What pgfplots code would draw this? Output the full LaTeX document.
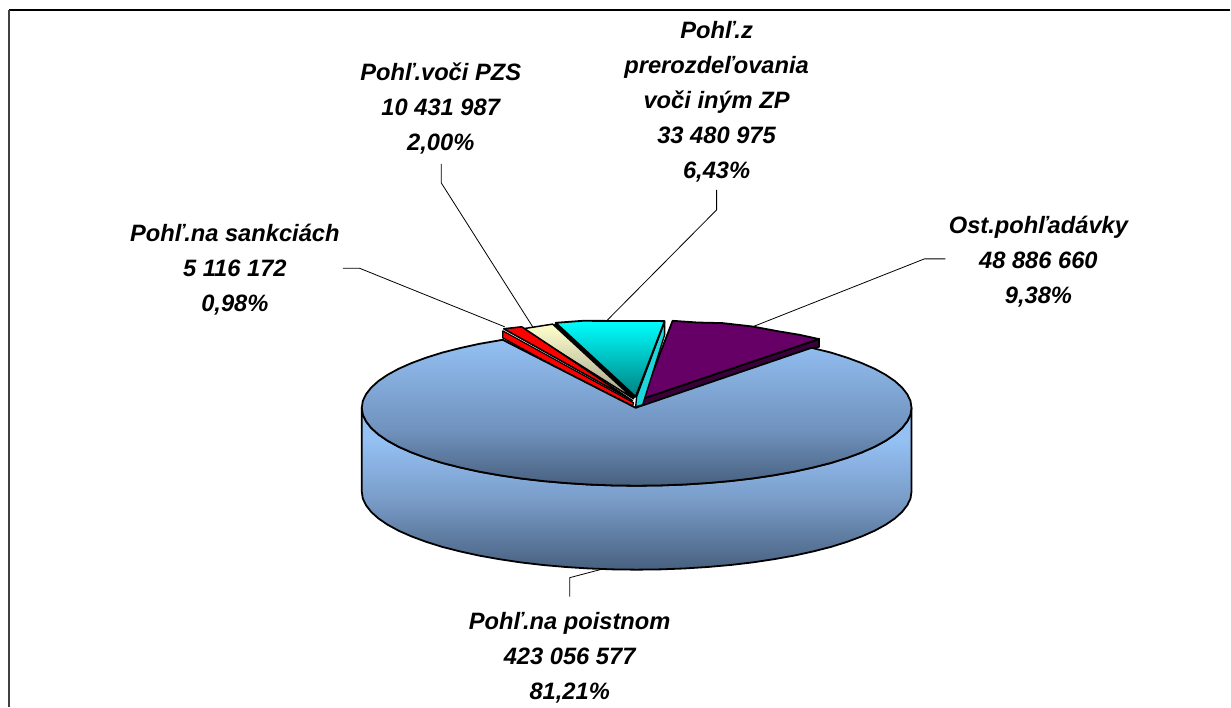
\documentclass[border=0pt]{standalone}
\usepackage{pgfplots}
\pgfplotsset{compat=1.18}
\usepackage{fontspec}
\setmainfont{Liberation Sans}
\definecolor{bluelight}{HTML}{94C0F3}
\definecolor{bluemid}{HTML}{7092BD}
\definecolor{bluemids}{HTML}{7A9DC9}
\definecolor{bluedark}{HTML}{47607F}
\definecolor{purpleTop}{HTML}{660066}
\definecolor{purpleSide}{HTML}{3A003A}
\definecolor{cyanSide}{HTML}{1CD6DC}
\pgfdeclareverticalshading{sideblue}{100bp}{color(0bp)=(bluedark);color(25bp)=(bluedark);color(47bp)=(bluemids);color(65bp)=(bluelight);color(100bp)=(bluelight)}
\pgfdeclareverticalshading{topblue}{100bp}{color(0bp)=(bluedark);color(25bp)=(bluedark);color(44bp)=(bluemid);color(75bp)=(bluelight);color(100bp)=(bluelight)}
\tikzset{lab/.style={font=\fontsize{23.7}{35}\selectfont\bfseries\itshape, align=center, anchor=center, inner sep=0pt}}
\begin{document}
\begin{tikzpicture}
\begin{axis}[
  scale only axis, width=1231pt, height=707pt,
  xmin=0, xmax=1231, ymin=0, ymax=707, y dir=reverse,
  hide axis, clip=false,
  every axis plot/.append style={no markers, line join=round},
]
\addplot[draw=none] coordinates {(0,0)(1231,707)};
% frame
\addplot[black, line width=1.4pt] coordinates {(1231,10)(9,10)};
\addplot[black!75, line width=2pt] coordinates {(9,707)(9,10)};
% leaders
\addplot[black, line width=0.8pt] coordinates {(343,268.5)(360,268.5)(505,327)};
\addplot[black, line width=0.8pt] coordinates {(441.5,164)(441.5,183)(533,327)};
\addplot[black, line width=0.8pt] coordinates {(717,190)(717,210)(607,321)};
\addplot[black, line width=0.8pt] coordinates {(946,259)(925,259)(753,327)};
\addplot[black, line width=0.8pt] coordinates {(570,597)(570,578)(608,568)};
% purple slice
\addplot[draw=black, fill=purpleSide, line width=1.8pt] coordinates {(643,399)(819.5,339)(819.5,347)(642,407)} -- cycle;
\addplot[draw=black, fill=purpleTop, line width=1.8pt] coordinates {(643,399)(673,321)(698,322.7)(723,323.3)(753,326.7)(780,331.7)(800,335)(819.5,339.3)} -- cycle;
% cyan slice
\addplot[draw=black, fill=cyanSide, line width=1.3pt] coordinates {(665,322)(637,397)(636,407)(643,405)(665,335)} -- cycle;
\addplot[draw=black, top color=cyan, bottom color=cyan!50!black, line width=1.8pt] coordinates {(556,323)(583,321)(665,321.3)(636,397)} -- cycle;
% cream slice
\addplot[draw=black, top color=yellow!20!white, bottom color=yellow!20!black!45!white, line width=1.5pt] coordinates {(523,329)(553,324.3)(634,399)} -- cycle;
\addplot[black, line width=2.4pt] coordinates {(555,324)(635,398)};
% red slice
\addplot[draw=black, fill=red, line width=1.2pt] coordinates {(503,331)(503,338)(632,409)(634,403)} -- cycle;
\addplot[draw=black, fill=red, line width=1.6pt] coordinates {(504,329)(522,327)(633,401)} -- cycle;
% main slice side
\addplot[draw=black, shading=sideblue, line width=1.8pt] coordinates {
(912,408)(912,492)(911,498.8)(907.8,505.5)(902.6,512.2)(895.4,518.7)(886.2,525)(875.2,531)(862.3,536.7)(847.7,542.1)(831.5,547.2)(813.8,551.7)(794.7,555.9)(774.5,559.5)(753.2,562.7)(731,565.3)(708.2,567.3)(684.7,568.8)(661,569.7)(637,570)(613,569.7)(589.3,568.8)(565.8,567.3)(543,565.3)(520.8,562.7)(499.5,559.5)(479.3,555.9)(460.2,551.7)(442.5,547.2)(426.3,542.1)(411.7,536.7)(398.8,531)(387.8,525)(378.6,518.7)(371.4,512.2)(366.2,505.5)(363,498.8)(362,492)(362,408)
(363,414.8)(366.2,421.5)(371.4,428.2)(378.6,434.7)(387.8,441)(398.8,447)(411.7,452.7)(426.3,458.1)(442.5,463.2)(460.2,467.7)(479.3,471.9)(499.5,475.5)(520.8,478.7)(543,481.3)(565.8,483.3)(589.3,484.8)(613,485.7)(637,486)(661,485.7)(684.7,484.8)(708.2,483.3)(731,481.3)(753.2,478.7)(774.5,475.5)(794.7,471.9)(813.8,467.7)(831.5,463.2)(847.7,458.1)(862.3,452.7)(875.2,447)(886.2,441)(895.4,434.7)(902.6,428.2)(907.8,421.5)(911,414.8)
} -- cycle;
% main slice top
\addplot[draw=black, shading=topblue, line width=1.8pt] coordinates {
(636,408)(812,348)(831.5,352.8)(847.7,357.9)(862.3,363.3)(875.2,369)(886.2,375)(895.4,381.3)(902.6,387.8)(907.8,394.5)(911,401.2)(912,408)(911,414.8)(907.8,421.5)(902.6,428.2)(895.4,434.7)(886.2,441)(875.2,447)(862.3,452.7)(847.7,458.1)(831.5,463.2)(813.8,467.7)(794.7,471.9)(774.5,475.5)(753.2,478.7)(731,481.3)(708.2,483.3)(684.7,484.8)(661,485.7)(637,486)(613,485.7)(589.3,484.8)(565.8,483.3)(543,481.3)(520.8,478.7)(499.5,475.5)(479.3,471.9)(460.2,467.7)(442.5,463.2)(426.3,458.1)(411.7,452.7)(398.8,447)(387.8,441)(378.6,434.7)(371.4,428.2)(366.2,421.5)(363,414.8)(362,408)(363,401.2)(366.2,394.5)(371.4,387.8)(378.6,381.3)(387.8,375)(398.8,369)(411.7,363.3)(426.3,357.9)(442.5,352.8)(460.2,348.3)(479.3,344.1)(503,340)
} -- cycle;
% labels
\node[lab] at (axis cs:235,270) {Pohľ.na sankciách\\5 116 172\\0,98\%};
\node[lab] at (axis cs:441,108.5) {Pohľ.voči PZS\\10 431 987\\2,00\%};
\node[lab] at (axis cs:717,101.5) {Pohľ.z\\prerozdeľovania\\voči iným ZP\\33 480 975\\6,43\%};
\node[lab] at (axis cs:1039,262) {Ost.pohľadávky\\48 886 660\\9,38\%};
\node[lab] at (axis cs:570,658) {Pohľ.na poistnom\\423 056 577\\81,21\%};
\end{axis}
\end{tikzpicture}
\end{document}
